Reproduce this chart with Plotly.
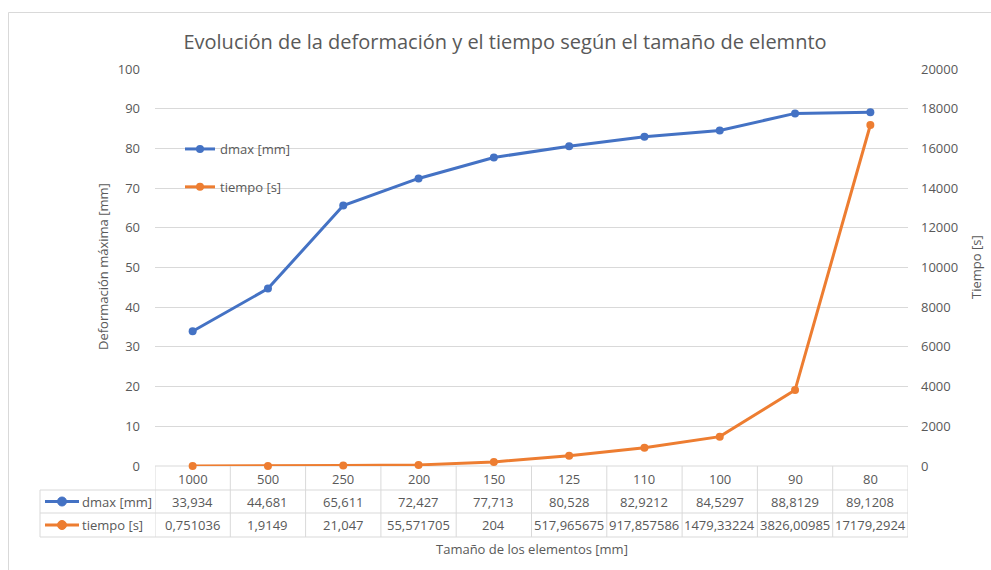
import plotly.graph_objects as go

categories = ["1000", "500", "250", "200", "150", "125", "110", "100", "90", "80"]
dmax_mm = [33.934, 44.681, 65.611, 72.427, 77.713, 80.528, 82.9212, 84.5297, 88.8129, 89.1208]
tiempo_s = [0.751036, 1.9149, 21.047, 55.571705, 204, 517.965675, 917.857586, 1479.33224, 3826.00985, 17179.2924]
series_names = ["dmax [mm]", "tiempo [s]"]

BLUE = "#4472C4"
ORANGE = "#ED7D31"
GRID = "#D9D9D9"
TXT = "#595959"
FONT = "Open Sans"

W, H = 991, 570
L, R, T, B = 155, 908, 69, 466
PW, PH = R - L, B - T


def px(x):
    return (x - L) / PW


def py(y):
    return (B - y) / PH


def fmt(v):
    s = str(v)
    if s.endswith(".0"):
        s = s[:-2]
    return s.replace(".", ",")


xs = list(range(len(categories)))

fig = go.Figure()
fig.add_trace(go.Scatter(
    x=xs, y=dmax_mm, name=series_names[0], mode="lines+markers",
    line=dict(color=BLUE, width=3), marker=dict(size=8, color=BLUE),
    legendgroup="a", cliponaxis=False))
fig.add_trace(go.Scatter(
    x=xs, y=tiempo_s, name=series_names[1], mode="lines+markers", yaxis="y2",
    line=dict(color=ORANGE, width=3), marker=dict(size=8, color=ORANGE),
    legendgroup="b", cliponaxis=False))

shapes = []
annotations = []

# outer chart border
shapes.append(dict(type="rect", xref="paper", yref="paper",
                   x0=px(8.5), x1=px(1200), y0=py(12.5), y1=py(800),
                   line=dict(color=GRID, width=1), fillcolor="rgba(0,0,0,0)", layer="below"))

# data table
row_lines = [490, 513, 537]
for yl in row_lines:
    shapes.append(dict(type="line", xref="paper", yref="paper",
                       x0=px(40), x1=1, y0=py(yl), y1=py(yl),
                       line=dict(color=GRID, width=1)))
shapes.append(dict(type="line", xref="paper", yref="paper",
                   x0=px(40), x1=px(40), y0=py(490), y1=py(537),
                   line=dict(color=GRID, width=1)))
for i in range(len(categories) + 1):
    shapes.append(dict(type="line", xref="x", yref="paper",
                       x0=i - 0.5, x1=i - 0.5, y0=0, y1=py(537),
                       line=dict(color=GRID, width=1)))
shapes.append(dict(type="line", xref="paper", yref="paper",
                   x0=0, x1=1, y0=0, y1=0, line=dict(color=GRID, width=1), layer="below"))


def note(x, y, text, xref="paper", xanchor="center", size=13, angle=0):
    annotations.append(dict(x=x, y=y, xref=xref, yref="paper", text=text,
                            xanchor=xanchor, yanchor="middle", textangle=angle,
                            showarrow=False, font=dict(size=size, color=TXT, family=FONT)))


row_centers = [479, 501.5, 525]
for i, c in enumerate(categories):
    note(i, py(row_centers[0]), c, xref="x")
    note(i, py(row_centers[1]), fmt(dmax_mm[i]), xref="x")
    note(i, py(row_centers[2]), fmt(tiempo_s[i]), xref="x")

# legend keys in table
for k, (name, col) in enumerate(zip(series_names, [BLUE, ORANGE])):
    yc = row_centers[k + 1]
    shapes.append(dict(type="line", xref="paper", yref="paper",
                       x0=px(45), x1=px(79), y0=py(yc), y1=py(yc),
                       line=dict(color=col, width=3)))
    shapes.append(dict(type="circle", xref="paper", yref="paper",
                       x0=px(57.5), x1=px(66.5), y0=py(yc - 4.5), y1=py(yc + 4.5),
                       line=dict(color=col, width=1), fillcolor=col))
    note(px(80), py(yc), name, xanchor="left")

# axis titles
note(px(103), py(267), "Deformación máxima [mm]", angle=-90)
note(px(976), py(267), "Tiempo [s]", angle=-90)
note(0.5, py(549), "Tamaño de los elementos [mm]")

fig.update_layout(
    width=W, height=H,
    margin=dict(l=L, r=W - R, t=T, b=H - B, pad=0),
    paper_bgcolor="white", plot_bgcolor="white",
    font=dict(family=FONT, color=TXT, size=13),
    title=dict(text="Evolución de la deformación y el tiempo según el tamaño de elemnto",
               x=px(505), xref="paper", xanchor="center", y=1 - 42 / H, yanchor="middle",
               font=dict(size=20, color=TXT, family=FONT)),
    xaxis=dict(range=[-0.5, len(categories) - 0.5], showticklabels=False,
               showgrid=False, zeroline=False, showline=False, fixedrange=True),
    yaxis=dict(range=[0, 100], dtick=10, showgrid=True, gridcolor=GRID, gridwidth=1,
               zeroline=False, showline=False, ticks="", ticklabelstandoff=14,
               tickfont=dict(size=13, color=TXT)),
    yaxis2=dict(range=[0, 20000], dtick=2000, overlaying="y", side="right",
                showgrid=False, zeroline=False, showline=False, ticks="", tickformat="d",
                ticklabelstandoff=12, tickfont=dict(size=13, color=TXT)),
    showlegend=True,
    legend=dict(x=px(180), y=py(134), xanchor="left", yanchor="top",
                bgcolor="rgba(0,0,0,0)", font=dict(size=13, color=TXT),
                tracegroupgap=18, itemwidth=30),
    shapes=shapes, annotations=annotations,
)

fig.write_html("out.html", config={"displayModeBar": False},
               post_script="document.body.style.margin='0px';")
